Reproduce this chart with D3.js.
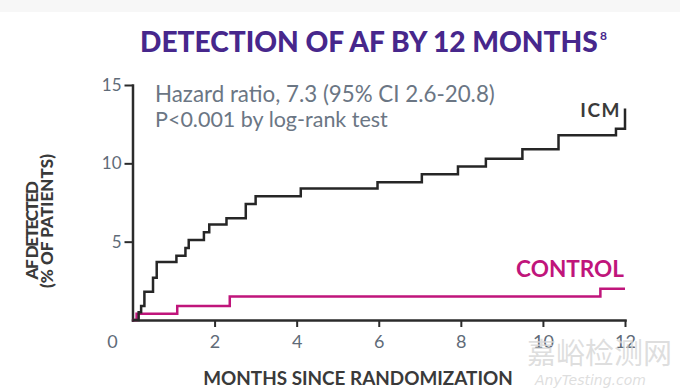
<!DOCTYPE html>
<html>
<head>
<meta charset="utf-8">
<script src="https://cdn.jsdelivr.net/npm/d3@7"></script>
<style>
body { margin: 0; background: #fff; }
svg { display: block; font-family: Lato, "Open Sans", sans-serif; }
</style>
</head>
<body>
<div id="chart-area"></div>
<script>
// Kaplan-Meier style step data (months, % of patients with AF detected)
var icmMonths = [0, 0.15, 0.21, 0.29, 0.5, 0.59, 1.07, 1.29, 1.37, 1.74, 1.87, 2.29, 2.76, 3.0, 4.1, 5.97, 7.05, 7.93, 8.61, 9.5, 10.38, 11.78, 12];
var icmPct    = [0, 0.5, 0.9, 1.8, 2.7, 3.7, 4.1, 4.6, 5.1, 5.6, 6.1, 6.5, 7.4, 7.9, 8.4, 8.8, 9.3, 9.8, 10.3, 10.9, 11.8, 12.2, 13.5];
var controlMonths = [0, 0.1, 1.09, 2.37, 11.4, 12];
var controlPct    = [0, 0.4, 0.9, 1.5, 2.0, 2.0];
var xTicks = [2, 4, 6, 8, 10, 12];
var yTicks = [5, 10, 15];
var seriesNames = ["ICM", "CONTROL"];
var statLines = ["Hazard ratio, 7.3 (95% CI 2.6-20.8)", "P<0.001 by log-rank test"];

var W = 680, H = 388;
var margin = { left: 132.5, right: 55, top: 85, bottom: 68 };
var width = W - margin.left - margin.right,
    height = H - margin.top - margin.bottom;

var svg = d3.select("#chart-area").append("svg")
    .attr("width", W)
    .attr("height", H);

// faint strip at the very top of the picture
svg.append("rect").attr("width", W).attr("height", 12).attr("fill", "#f7f7f7");

var g = svg.append("g")
    .attr("transform", "translate(" + margin.left + "," + margin.top + ")");

var x = d3.scaleLinear().domain([0, 12]).range([0, width]);
var y = d3.scaleLinear().domain([0, 15]).range([height, 0]);

function fitWidth(sel, w) {
    var cur = sel.node().getComputedTextLength();
    var fs = parseFloat(sel.attr("font-size"));
    sel.attr("font-size", fs * w / cur);
}
// keep the font size, spread letters until the text is w wide
function spaceToWidth(sel, w) {
    var cur = sel.node().getComputedTextLength();
    var n = sel.text().length;
    sel.attr("letter-spacing", (w - cur) / n);
}

// axes
var xAxis = g.append("g")
    .attr("transform", "translate(0," + height + ")")
    .call(d3.axisBottom(x).tickValues(xTicks).tickSize(7).tickSizeOuter(0).tickPadding(8));
var yAxis = g.append("g")
    .call(d3.axisLeft(y).tickValues(yTicks).tickSize(8).tickSizeOuter(0).tickPadding(3));

[xAxis, yAxis].forEach(function(a) {
    a.select(".domain").attr("stroke", "#2b2b2b").attr("stroke-width", 2.5).attr("stroke-linecap", "square");
    a.selectAll(".tick line").attr("stroke", "#2b2b2b").attr("stroke-width", 2);
    a.selectAll(".tick text")
        .attr("fill", "#5f6b78")
        .attr("font-size", 18)
        .attr("font-family", "Lato, sans-serif");
});
yAxis.selectAll(".tick text").attr("font-size", 17);

// lone zero label, sitting left of the origin
g.append("text")
    .attr("x", x(0) - 20)
    .attr("y", height + 15)
    .attr("dy", "0.71em")
    .attr("text-anchor", "middle")
    .attr("fill", "#5f6b78")
    .attr("font-size", 18)
    .text("0");

// curves
var line = d3.line()
    .x(function(d) { return x(d[0]); })
    .y(function(d) { return y(d[1]); })
    .curve(d3.curveStepAfter);

var controlData = d3.zip(controlMonths, controlPct);
var icmData = d3.zip(icmMonths, icmPct);

g.append("path")
    .datum(controlData)
    .attr("fill", "none")
    .attr("stroke", "#c0157b")
    .attr("stroke-width", 2.5)
    .attr("d", line);

g.append("path")
    .datum(icmData)
    .attr("fill", "none")
    .attr("stroke", "#262626")
    .attr("stroke-width", 2.5)
    .attr("d", line);

// series labels
svg.append("text")
    .attr("x", 621).attr("y", 117)
    .attr("text-anchor", "end")
    .attr("font-weight", 700)
    .attr("font-size", 19)
    .attr("letter-spacing", 1.5)
    .attr("fill", "#3a3a3a")
    .text(seriesNames[0]);

var ctlLabel = svg.append("text")
    .attr("x", 624).attr("y", 277)
    .attr("text-anchor", "end")
    .attr("font-weight", 700)
    .attr("font-size", 20)
    .attr("fill", "#c0157b")
    .text(seriesNames[1]);
fitWidth(ctlLabel, 108);

// stats text
statLines.forEach(function(s, i) {
    var t = svg.append("text")
        .attr("x", 155).attr("y", 102 + i * 25)
        .attr("font-size", 18)
        .attr("fill", "#6b7684")
        .text(s);
    fitWidth(t, i == 0 ? 340 : 233);
});

// title
var title = svg.append("text")
    .attr("x", 140).attr("y", 52)
    .attr("font-weight", 900)
    .attr("font-size", 26)
    .attr("fill", "#47278c")
    .text("DETECTION OF AF BY 12 MONTHS");
fitWidth(title, 458);
svg.append("text")
    .attr("x", 600).attr("y", 40)
    .attr("font-weight", 700)
    .attr("font-size", 12)
    .attr("fill", "#47278c")
    .text("8");

// axis titles
var xt = svg.append("text")
    .attr("x", 358).attr("y", 385)
    .attr("text-anchor", "middle")
    .attr("font-weight", 700)
    .attr("font-size", 16)
    .attr("fill", "#3a3a3a")
    .text("MONTHS SINCE RANDOMIZATION");
fitWidth(xt, 310);

var yt1 = svg.append("text")
    .attr("transform", "translate(37.5,231) rotate(-90)")
    .attr("text-anchor", "middle")
    .attr("font-weight", 900)
    .attr("font-size", 17)
    .attr("fill", "#3a3a3a")
    .text("AF DETECTED");
spaceToWidth(yt1, 97);
var yt2 = svg.append("text")
    .attr("transform", "translate(53,221) rotate(-90)")
    .attr("text-anchor", "middle")
    .attr("font-weight", 900)
    .attr("font-size", 17)
    .attr("fill", "#3a3a3a")
    .text("(% OF PATIENTS)");
spaceToWidth(yt2, 134);

// site watermark
svg.append("text")
    .attr("x", 527).attr("y", 364)
    .attr("font-family", "'Noto Sans CJK SC', sans-serif")
    .attr("font-size", 29)
    .attr("fill", "#d6d6d6")
    .attr("fill-opacity", 0.8)
    .text("嘉峪检测网");
svg.append("text")
    .attr("x", 535).attr("y", 385)
    .attr("font-style", "italic")
    .attr("font-family", "'DejaVu Sans', sans-serif")
    .attr("font-size", 14)
    .attr("fill", "#d6d6d6")
    .attr("fill-opacity", 0.8)
    .text("AnyTesting.com");
</script>
</body>
</html>
